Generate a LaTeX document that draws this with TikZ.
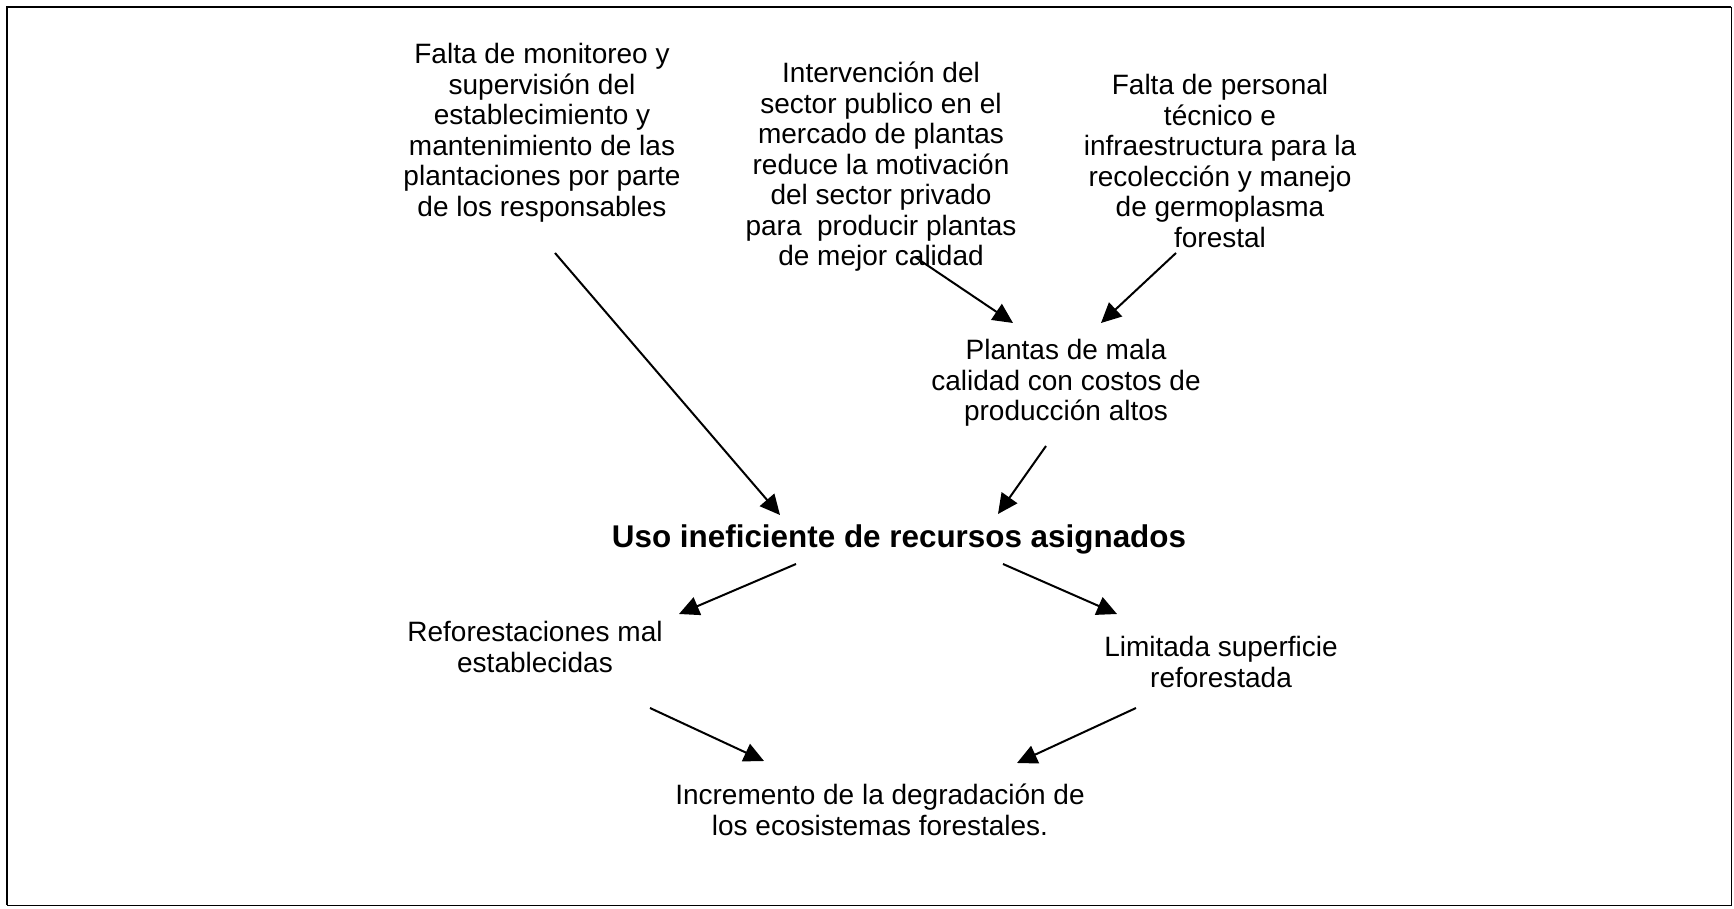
\documentclass[tikz,border=0pt]{standalone}
\usepackage{fontspec}
\setmainfont{Liberation Sans}
\usetikzlibrary{arrows.meta}
\begin{document}
\begin{tikzpicture}[x=0.5pt,y=-0.5pt,
  lbl/.style={align=center,inner sep=0pt,font=\fontsize{14}{15.25}\selectfont},
  ttl/.style={inner sep=0pt,font=\fontsize{15.7}{18}\selectfont\bfseries},
  arr/.style={line width=1pt,-{Triangle[length=10pt,width=9.5pt]}}]
\useasboundingbox (0,0) rectangle (1734,909);
\draw[line width=1pt] (7,905) -- (7,7) -- (1731,7);
\draw[line width=0.5pt] (1731,7) -- (1731,905) -- (7,905);

\node[lbl] (n1) at (542,133) {Falta de monitoreo y\\supervisión del\\establecimiento y\\mantenimiento de las\\plantaciones por parte\\de los responsables};
\node[lbl] (n2) at (881,167) {Intervención del\\sector publico en el\\mercado de plantas\\reduce la motivación\\del sector privado\\para\ \ producir plantas\\de mejor calidad};
\node[lbl] (n3) at (1220,161) {Falta de personal\\técnico e\\infraestructura para la\\recolección y manejo\\de germoplasma\\forestal};
\node[lbl] (n4) at (1066,383) {Plantas de mala\\calidad con costos de\\producción altos};
\node[ttl] (n5) at (899,539) {Uso ineficiente de recursos asignados};
\node[lbl] (n6) at (535,647) {Reforestaciones mal\\establecidas};
\node[lbl] (n7) at (1221,662) {Limitada superficie\\reforestada};
\node[lbl] (n8) at (880,810) {Incremento de la degradación de\\los ecosistemas forestales.};

\coordinate (a1s) at (555,253); \coordinate (a1e) at (780,515);
\coordinate (a2s) at (915,257); \coordinate (a2e) at (1013,323);
\coordinate (a3s) at (1176,253); \coordinate (a3e) at (1101,323);
\coordinate (a4s) at (1046,446); \coordinate (a4e) at (998,514);
\coordinate (a5s) at (796,564); \coordinate (a5e) at (679,614);
\coordinate (a6s) at (1003,564); \coordinate (a6e) at (1117,614);
\coordinate (a7s) at (650,708); \coordinate (a7e) at (764,761);
\coordinate (a8s) at (1136,708); \coordinate (a8e) at (1017,763);

\draw[arr] (a1s) -- (a1e);
\draw[arr] (a2s) -- (a2e);
\draw[arr] (a3s) -- (a3e);
\draw[arr] (a4s) -- (a4e);
\draw[arr] (a5s) -- (a5e);
\draw[arr] (a6s) -- (a6e);
\draw[arr] (a7s) -- (a7e);
\draw[arr] (a8s) -- (a8e);
\end{tikzpicture}
\end{document}
